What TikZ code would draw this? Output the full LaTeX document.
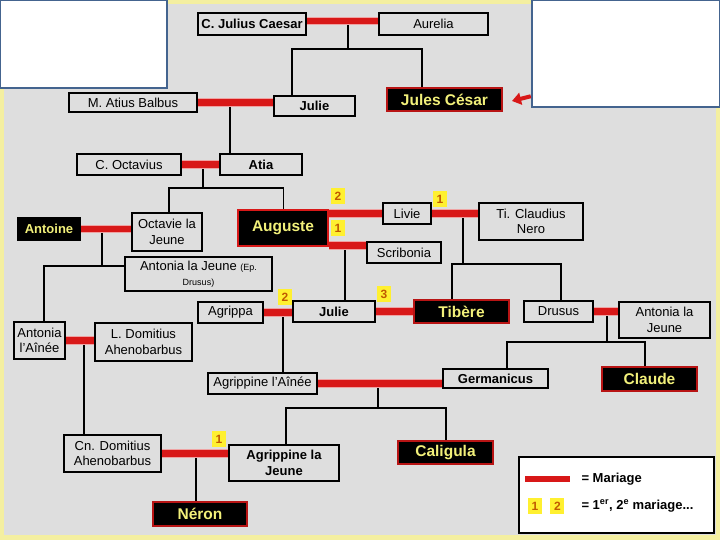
\documentclass[tikz,border=0pt]{standalone}
\usepackage{fontspec}
\setmainfont{Liberation Sans}
\usepackage{tikz}
\usetikzlibrary{arrows.meta,positioning}
\definecolor{bgcol}{HTML}{DEDEDE}
\definecolor{framecol}{HTML}{F4EFA0}
\definecolor{wedred}{HTML}{D81818}
\definecolor{rulertxt}{HTML}{F2F07A}
\definecolor{numyel}{HTML}{FFF030}
\definecolor{numtxt}{HTML}{C05A00}
\definecolor{noteblue}{HTML}{44648F}
\newcommand{\smalltxt}{\fontsize{9}{11}\selectfont}

\begin{document}
\begin{tikzpicture}[x=1pt, y=-1pt,
  person/.style={draw, line width=1.6pt, fill=bgcol, inner sep=1pt, align=center, font=\fontsize{13}{15.5}\selectfont},
  pbold/.style={person, font=\bfseries\fontsize{13}{15.5}\selectfont},
  ruler/.style={draw=wedred!85!black, line width=1.6pt, fill=black, text=rulertxt, inner sep=1pt, font=\bfseries\fontsize{15.5}{18}\selectfont},
  kid/.style={line width=1.6pt, black},
  wed/.style={line width=6.5pt, draw=wedred, preaction={draw=wedred!40, line width=8.5pt}},
  num/.style={fill=numyel, text=numtxt, inner sep=0pt, minimum width=14, minimum height=16, font=\bfseries\fontsize{12}{12}\selectfont},
  notebox/.style={draw=noteblue, line width=2.5pt, fill=white}]
\useasboundingbox (0,0) rectangle (720,540);
\fill[framecol] (0,0) rectangle (720,540);
\fill[bgcol] (4,4) rectangle (716,535);
\node[notebox, minimum width=167, minimum height=88] (noteL) at (83.5,44) {};
\node[notebox, minimum width=188, minimum height=107] (noteR) at (626,53.5) {};

\node[pbold, minimum width=108, minimum height=22] (caesar) at (252,24) {C. Julius Caesar};
\node[person, minimum width=109, minimum height=22] (aurelia) at (433.5,24) {Aurelia};
\node[pbold, minimum width=81, minimum height=20] (julie1) at (314.5,106) {Julie};
\node[ruler, minimum width=115, minimum height=23] (jcesar) at (444.5,99.5) {Jules César};
\node[person, minimum width=128, minimum height=19] (balbus) at (133,102.5) {M. Atius Balbus};
\node[person, minimum width=104, minimum height=21] (octavius) at (129,164.5) {C. Octavius};
\node[pbold, minimum width=82, minimum height=21] (atia) at (261,164.5) {Atia};
\node[person, minimum width=70, minimum height=38] (octavie) at (167,232) {Octavie la\\Jeune};
\node[ruler, draw=wedred, line width=2.8pt, minimum width=90, minimum height=36] (auguste) at (283,228) {Auguste};
\node[ruler, draw=black, font=\bfseries\fontsize{13}{15}\selectfont, minimum width=62, minimum height=22] (antoine) at (49,229) {Antoine};
\node[person, minimum width=147, minimum height=34] (antoniaJ) at (198.5,274) {Antonia la Jeune {\smalltxt(Ep.}\\{\smalltxt Drusus)}};
\node[person, minimum width=48, minimum height=21] (livie) at (407,213.5) {Livie};
\node[person, minimum width=74, minimum height=21] (scribonia) at (404,252.5) {Scribonia};
\node[person, minimum width=104, minimum height=37] (nero) at (531,221.5) {Ti. Claudius\\Nero};
\node[person, minimum width=65, minimum height=21] (agrippa) at (230.5,312.5) {Agrippa};
\node[pbold, minimum width=82, minimum height=21] (julie2) at (334,311.5) {Julie};
\node[ruler, minimum width=95, minimum height=23] (tibere) at (461.5,311.5) {Tibère};
\node[person, minimum width=69, minimum height=21] (drusus) at (558.5,311.5) {Drusus};
\node[person, minimum width=91, minimum height=36] (antoniaR) at (664.5,320) {Antonia la\\Jeune};
\node[person, minimum width=51, minimum height=37] (antoniaA) at (39.5,340.5) {Antonia\\l'Aînée};
\node[person, minimum width=97, minimum height=38] (ldom) at (143.5,342) {L. Domitius\\Ahenobarbus};
\node[person, minimum width=109, minimum height=21] (agrippineA) at (262.5,383.5) {Agrippine l'Aînée};
\node[pbold, minimum width=105, minimum height=19] (germanicus) at (495.5,378.5) {Germanicus};
\node[ruler, minimum width=95, minimum height=24] (claude) at (649.5,379) {Claude};
\node[person, minimum width=97, minimum height=37] (cndom) at (112.5,453.5) {Cn. Domitius\\Ahenobarbus};
\node[pbold, minimum width=110, minimum height=36] (agrippineJ) at (284,463) {Agrippine la\\Jeune};
\node[ruler, minimum width=95, minimum height=23] (caligula) at (445.5,452.5) {Caligula};
\node[ruler, minimum width=94, minimum height=24] (neron) at (200,514) {Néron};

\coordinate (m1) at (348,21);
\coordinate (m2) at (230,102);
\coordinate (m3) at (203,164.5);
\coordinate (m4) at (102,229);
\coordinate (m5) at (345,243);
\coordinate (m6) at (463,212);
\coordinate (m7) at (283,311);
\coordinate (m8) at (607,311);
\coordinate (m9) at (378,381);
\coordinate (m10) at (84,337);
\coordinate (m11) at (196,453);
\draw[kid] (m1) -- ++(0,28) coordinate (b1) -| ([xshift=19]julie1.north west);
\draw[kid] (b1) -| ([xshift=36]jcesar.north west);
\draw[kid] (m2) -- (m2 |- atia.north);
\draw[kid] (m3) -- ++(0,23.5) coordinate (b3) -| ([xshift=38]octavie.north west);
\draw[kid] (b3) -| ([xshift=47]auguste.north west);
\draw[kid] (m4) -- ++(0,37) coordinate (b4) -- (b4 -| antoniaJ.west);
\draw[kid] (b4) -| ([xshift=31]antoniaA.north west);
\draw[kid] (m5) -- (m5 |- julie2.north);
\draw[kid] (m6) -- ++(0,52) coordinate (b6) -| ([xshift=39]tibere.north west);
\draw[kid] (b6) -| ([xshift=38]drusus.north west);
\draw[kid] (m7) -- (m7 |- agrippineA.north);
\draw[kid] (m8) -- ++(0,31) coordinate (b8) -| ([xshift=65]germanicus.north west);
\draw[kid] (b8) -| ([xshift=44]claude.north west);
\draw[kid] (m9) -- ++(0,27) coordinate (b9) -| ([xshift=58]agrippineJ.north west);
\draw[kid] (b9) -| ([xshift=49]caligula.north west);
\draw[kid] (m10) -- (m10 |- cndom.north);
\draw[kid] (m11) -- (m11 |- neron.north);

\draw[wed] ([yshift=3]caesar.east) -- ([yshift=3]aurelia.west);
\draw[wed] (balbus.east) -- (balbus.east -| julie1.west);
\draw[wed] (octavius.east) -- (atia.west);
\draw[wed] (antoine.east) -- (antoine.east -| octavie.west);
\draw[wed] (auguste.east |- livie.west) -- (livie.west);
\draw[wed] ([yshift=2]auguste.south east) -- ([yshift=2]auguste.south east -| scribonia.west);
\draw[wed] (livie.east) -- (livie.east -| nero.west);
\draw[wed] (agrippa.east) -- (agrippa.east -| julie2.west);
\draw[wed] (julie2.east) -- (julie2.east -| tibere.west);
\draw[wed] (drusus.east) -- (drusus.east -| antoniaR.west);
\draw[wed] (agrippineA.east) -- (agrippineA.east -| germanicus.west);
\draw[wed] (antoniaA.east) -- (antoniaA.east -| ldom.west);
\draw[wed] (cndom.east) -- (cndom.east -| agrippineJ.west);

\node[num] (nAug2) at (338,196) {2};
\node[num] (nAug1) at (338,228) {1};
\node[num] (nLiv1) at (440,199) {1};
\node[num] (nJul3) at (384,294) {3};
\node[num] (nJul2) at (285,297) {2};
\node[num] (nAgr1) at (219,439) {1};

\coordinate (ptr) at (512,101);
\draw[wedred, line width=4pt, -{Triangle[length=9pt, width=12pt]}] ([yshift=12]noteR.south west) -- (ptr);

\node[draw, line width=2pt, fill=white, minimum width=195, minimum height=76] (legend) at (616.5,495) {};
\node[fill=wedred, inner sep=0pt, minimum width=45, minimum height=6.5] (legbar) at (547.5,479) {};
\node[anchor=west, font=\bfseries\fontsize{13}{15}\selectfont] (legtxt1) at (578,479) {= Mariage};
\node[num] (leg1) at (535,506) {1};
\node[num, right=8pt of leg1] (leg2) {2};
\node[anchor=west, font=\bfseries\fontsize{13}{15}\selectfont] (legtxt2) at (578,506) {= 1\textsuperscript{er}, 2\textsuperscript{e} mariage...};
\end{tikzpicture}
\end{document}
